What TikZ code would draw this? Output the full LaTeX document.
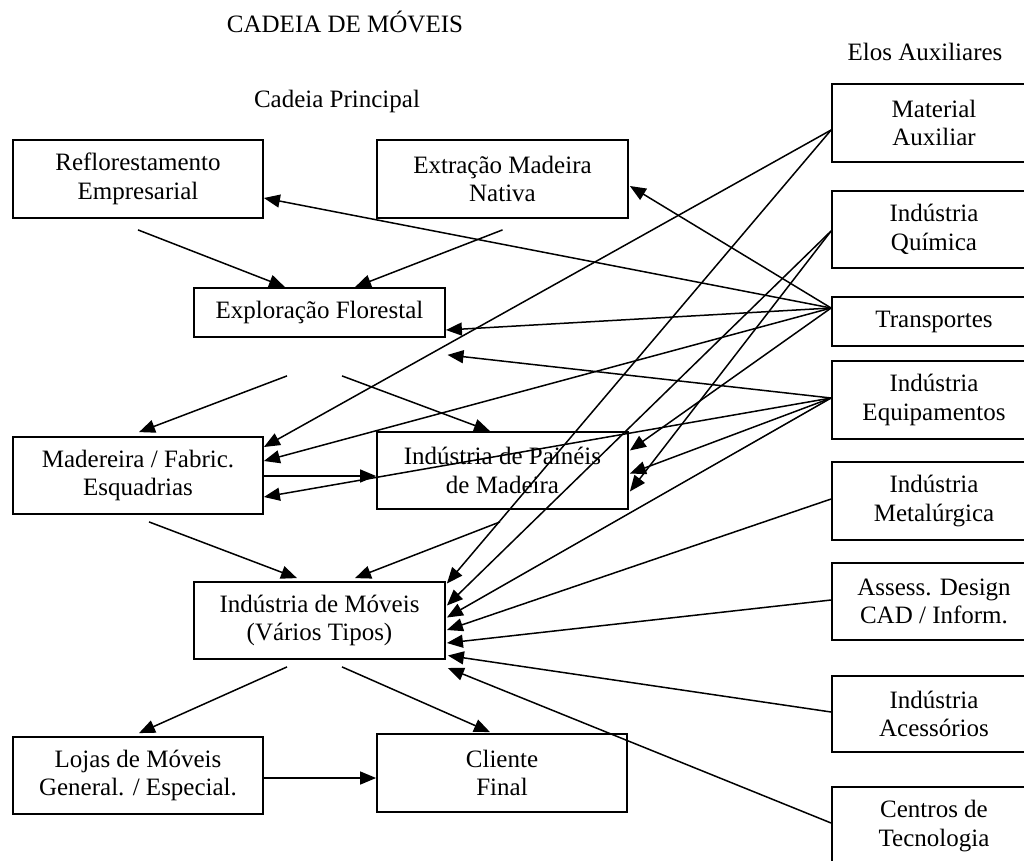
\documentclass[tikz,border=0pt]{standalone}
\usepackage{fontspec}
\setmainfont{Liberation Serif}
\usetikzlibrary{arrows.meta,calc}
\begin{document}
\begin{tikzpicture}[x=1pt,y=-1pt,
  txt/.style={font=\fontsize{25}{28.5}\selectfont},
  box/.style={txt,draw,line width=1.8pt,inner sep=0pt,align=center},
  lbl/.style={txt,inner sep=0pt,anchor=base},
  link/.style={line width=1.5pt,-{Triangle[length=16pt,width=13pt]}}]
\useasboundingbox (0,0) rectangle (1024,860);

% headings
\node[lbl] (title) at (345,32.5) {CADEIA DE MÓVEIS};
\node[lbl] (elos) at (925,60) {Elos Auxiliares};
\node[lbl] (princ) at (337,107) {Cadeia Principal};

% main chain
\node[box,minimum width=250pt,minimum height=78pt] (refl) at (138,179) {Reflorestamento\\Empresarial};
\node[box,minimum width=251pt,minimum height=78pt] (extr) at (502.5,179) {Extração Madeira\\Nativa};
\node[box,minimum width=251pt,minimum height=49pt] (expl) at (319.5,312.5) {Exploração Florestal};
\node[box,minimum width=250pt,minimum height=77pt] (mad) at (138,475.5) {Madereira / Fabric.\\Esquadrias};
\node[box,minimum width=251pt,minimum height=77pt] (pain) at (502.5,470.5) {Indústria de Painéis\\de Madeira};
\node[box,minimum width=251pt,minimum height=77pt] (mov) at (319.5,620.5) {Indústria de Móveis\\(Vários Tipos)};
\node[box,minimum width=250pt,minimum height=77pt] (lojas) at (138,775.5) {Lojas de Móveis\\General. / Especial.};
\node[box,minimum width=250pt,minimum height=78pt] (clie) at (502,773) {Cliente\\Final};

% auxiliary links (boxes run past the right edge)
\node[box,minimum width=204pt,minimum height=78pt] (ma) at (934,123) {Material\\Auxiliar};
\node[box,minimum width=204pt,minimum height=77pt] (qui) at (934,229.5) {Indústria\\Química};
\node[box,minimum width=204pt,minimum height=49pt] (tra) at (934,321.5) {Transportes};
\node[box,minimum width=204pt,minimum height=78pt] (equ) at (934,400) {Indústria\\Equipamentos};
\node[box,minimum width=204pt,minimum height=78pt] (met) at (934,501) {Indústria\\Metalúrgica};
\node[box,minimum width=204pt,minimum height=77pt] (ass) at (934,601.5) {Assess. Design\\CAD / Inform.};
\node[box,minimum width=204pt,minimum height=76pt] (ace) at (934,714) {Indústria\\Acessórios};
\node[box,minimum width=204pt,minimum height=78pt] (cen) at (934,826) {Centros de\\Tecnologia};

% flow along the main chain
\draw[link] ($(refl.south)+(0,11)$) -- ($(expl.north)+(-34.5,0)$);
\draw[link] ($(extr.south)+(0,11)$) -- ($(expl.north)+(35.5,0)$);
\draw[link] ($(expl.south)+(-32.5,38)$) -- ($(mad.north)+(1,-4)$);
\draw[link] ($(expl.south)+(22.5,38)$) -- ($(pain.north)+(-12.5,0)$);
\draw[link] ($(mad.east)+(0,0.5)$) -- ($(pain.west)+(0,5.5)$);
\draw[link] ($(mad.south)+(11,7)$) -- ($(mov.north)+(-22.5,-3)$);
\draw[link] ($(pain.south)+(-2.5,12)$) -- ($(mov.north)+(35.5,-3)$);
\draw[link] ($(mov.south)+(-32.5,7)$) -- ($(lojas.north)+(1,-3)$);
\draw[link] ($(mov.south)+(22.5,7)$) -- ($(clie.north)+(-12,-1)$);
\draw[link] ($(lojas.east)+(0,2.5)$) -- ($(clie.west)+(0,5)$);

% origins on the auxiliary boxes
\coordinate (maP) at ($(ma.west)+(0,7)$);
\coordinate (quP) at ($(qui.west)+(0,1.5)$);
\coordinate (trP) at ($(tra.west)+(0,-13.5)$);
\coordinate (eqP) at ($(equ.west)+(0,-2)$);
\coordinate (meP) at ($(met.west)+(0,-2)$);
\coordinate (asP) at ($(ass.west)+(0,-1.5)$);
\coordinate (acP) at ($(ace.west)+(0,-2)$);
\coordinate (ceP) at ($(cen.west)+(0,-3)$);
\coordinate (explB) at ($(expl.south)+(128,17)$);

% Material Auxiliar
\draw[link] (maP) -- ($(mad.east)+(0,-28.5)$);
\draw[link] (maP) -- ($(mov.east)+(1,-37)$);
% Indústria Química
\draw[link] (quP) -- ($(mov.east)+(1,-15)$);
\draw[link] (quP) -- ($(pain.east)+(1,21)$);
% Transportes
\draw[link] (trP) -- ($(refl.east)+(0,19)$);
\draw[link] (trP) -- ($(extr.east)+(1,7)$);
\draw[link] (trP) -- ($(expl.east)+(0,17.5)$);
\draw[link] (trP) -- ($(mad.east)+(0,-14.5)$);
\draw[link] (trP) -- ($(pain.east)+(1,-20)$);
% Indústria Equipamentos
\draw[link] (eqP) -- (explB);
\draw[link] (eqP) -- ($(mad.east)+(0,21.5)$);
\draw[link] (eqP) -- ($(pain.east)+(1,3)$);
\draw[link] (eqP) -- ($(mov.east)+(1,-3)$);
% remaining suppliers of the furniture industry
\draw[link] (meP) -- ($(mov.east)+(1,9.5)$);
\draw[link] (asP) -- ($(mov.east)+(1,22.5)$);
\draw[link] (acP) -- ($(mov.east)+(2,35)$);
\draw[link] (ceP) -- ($(mov.east)+(2,47.5)$);
\end{tikzpicture}
\end{document}
